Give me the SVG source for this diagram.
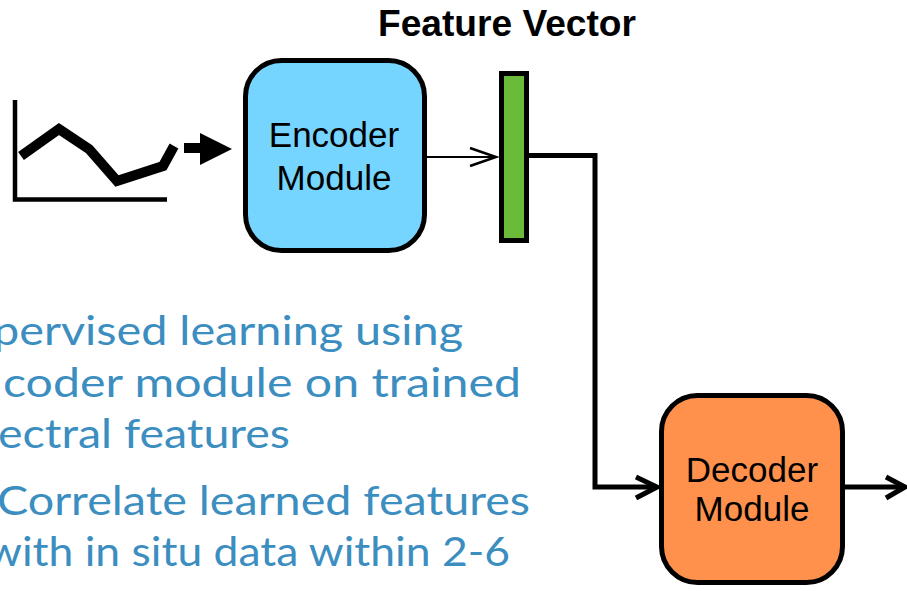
<svg xmlns="http://www.w3.org/2000/svg" width="907" height="591" viewBox="0 0 907 591">
<style>
.box{stroke:#000;stroke-width:5}
.lbl{font-family:"Liberation Sans",Arial,sans-serif;font-size:35px;fill:#000;text-anchor:middle}
.body{font-family:Lato,"Liberation Sans",sans-serif;font-size:40px;fill:#3B8EBF}
.conn{fill:none;stroke:#000;stroke-width:5}
</style>
<rect width="907" height="591" fill="#fff"/>
<text x="507" y="36" font-family="'Liberation Sans',Arial,sans-serif" font-weight="bold" font-size="36" textLength="258" lengthAdjust="spacingAndGlyphs" text-anchor="middle">Feature Vector</text>
<g id="chart">
<path d="M15,100 V199.5 H167" fill="none" stroke="#000" stroke-width="4.5"/>
<polyline points="21,156 59,129 89,149 117,181 163,166 174,146" fill="none" stroke="#000" stroke-width="10" stroke-linejoin="miter"/>
<polygon points="184,143 200,143 200,133 232,149 200,165 200,153 184,153" fill="#000"/>
</g>
<g id="encoder">
<rect class="box" x="245.5" y="60.5" width="179" height="190" rx="36" fill="#76D5FF"/>
<text class="lbl" x="334" y="147">Encoder</text>
<text class="lbl" x="334" y="190">Module</text>
</g>
<g id="feature-vector">
<rect class="box" x="501.5" y="73.5" width="25" height="167" fill="#6ABB3A"/>
</g>
<g id="decoder">
<rect class="box" x="661.5" y="395.5" width="181" height="187" rx="36" fill="#FF914D"/>
<text class="lbl" x="752" y="482">Decoder</text>
<text class="lbl" x="752" y="521">Module</text>
</g>
<g id="connectors">
<path d="M427,157 H495" fill="none" stroke="#000" stroke-width="2"/>
<path d="M470,148 L496,157 L470,166" fill="none" stroke="#000" stroke-width="2.5"/>
<path class="conn" d="M529,155.5 H595 V487 H656"/>
<path class="conn" d="M636,477 L657,487 L636,498"/>
<path class="conn" d="M845,487 H904"/>
<path class="conn" d="M886,477 L905,487 L886,498"/>
</g>
<g id="bullets">
<text class="body" x="-7" y="345" textLength="470" lengthAdjust="spacingAndGlyphs">pervised learning using</text>
<text class="body" x="3" y="397" textLength="518" lengthAdjust="spacingAndGlyphs">coder module on trained</text>
<text class="body" x="-2" y="448" textLength="292" lengthAdjust="spacingAndGlyphs">ectral features</text>
<text class="body" x="-3" y="515" textLength="533" lengthAdjust="spacingAndGlyphs">Correlate learned features</text>
<text class="body" x="-13" y="566" textLength="523" lengthAdjust="spacingAndGlyphs">with in situ data within 2-6</text>
</g>
</svg>
